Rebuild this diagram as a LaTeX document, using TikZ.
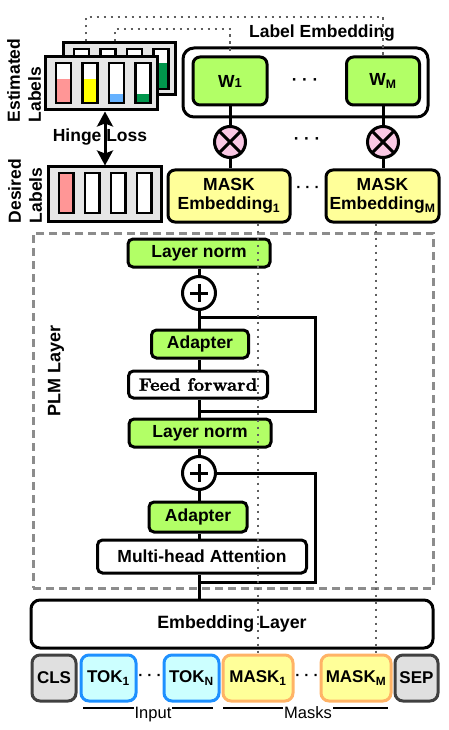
\documentclass[tikz,border=0pt]{standalone}
\usepackage{fontspec}
\setsansfont{Liberation Sans}
\newfontfamily\ffbold{lmroman10-bold}[Extension=.otf, FakeBold=1.5]
\usetikzlibrary{arrows.meta}
\definecolor{lgreen}{RGB}{178,255,102}
\definecolor{lyellow}{RGB}{255,255,153}
\definecolor{lpink}{RGB}{250,200,228}
\definecolor{lcyan}{RGB}{204,255,255}
\definecolor{tokblue}{RGB}{30,144,255}
\definecolor{tokorange}{RGB}{255,179,102}
\definecolor{lgray}{RGB}{224,224,224}
\definecolor{dgray}{RGB}{64,64,64}
\definecolor{boxgray}{RGB}{230,230,230}
\definecolor{dotgray}{RGB}{95,95,95}
\definecolor{dashgray}{RGB}{140,140,140}
\definecolor{barpink}{RGB}{255,150,150}
\definecolor{baryellow}{RGB}{255,255,0}
\definecolor{barblue}{RGB}{102,178,255}
\definecolor{bargreen}{RGB}{0,150,76}
\newcommand{\bfs}[1]{\sffamily\bfseries\fontsize{#1}{21}\selectfont}
\begin{document}
\begin{tikzpicture}[x=1pt,y=-1pt,
  blk/.style={draw, line width=3pt, rounded corners=5pt, inner sep=0pt, align=center, font=\bfs{17.5}},
  grn/.style={blk, fill=lgreen},
  wht/.style={blk, fill=white},
  ylw/.style={blk, fill=lyellow, rounded corners=7pt, font=\sffamily\bfseries\fontsize{17.5}{19}\selectfont},
  tokc/.style={blk, fill=lcyan, draw=tokblue, rounded corners=8pt, font=\bfs{17}, minimum height=46pt},
  tokm/.style={blk, fill=lyellow, draw=tokorange, rounded corners=8pt, font=\bfs{17}, minimum height=46pt},
  tokg/.style={blk, fill=lgray, draw=dgray, rounded corners=8pt, font=\bfs{17}, minimum height=46pt},
  sumc/.style={circle, draw, line width=3pt, fill=white, minimum size=33pt, inner sep=0pt,
    path picture={\draw[line width=3pt] ([xshift=-9pt]path picture bounding box.center) -- ([xshift=9pt]path picture bounding box.center);
                  \draw[line width=3pt] ([yshift=-9pt]path picture bounding box.center) -- ([yshift=9pt]path picture bounding box.center);}},
  mulc/.style={circle, draw, line width=3pt, fill=lpink, minimum size=31pt, inner sep=0pt,
    path picture={\draw[line width=3pt] (path picture bounding box.north west) -- (path picture bounding box.south east);
                  \draw[line width=3pt] (path picture bounding box.north east) -- (path picture bounding box.south west);}},
  conn/.style={line width=3pt},
  dotl/.style={line width=2.8pt, color=dotgray, dash pattern=on 2.8pt off 4.2pt},
  lbox/.style={draw, line width=3pt, fill=boxgray, inner sep=0pt},
  bar/.style={draw, line width=2.8pt},
  txt/.style={font=\bfs{17.5}, inner sep=0pt},
  dots/.style={font=\bfs{15}, inner sep=0pt}
]
\useasboundingbox (0,0) rectangle (449,730);

% PLM container
\node[draw=dashgray, line width=3pt, dash pattern=on 8pt off 5pt, minimum width=400pt, minimum height=355pt, inner sep=0pt] (plm) at (233,410.5) {};
\node[txt, rotate=90, font=\bfs{18}] (plmt) at (56,371) {PLM Layer};

% Estimated labels (back copy)
\node[lbox, minimum width=112pt, minimum height=52pt] (estb) at (119,69) {};
\foreach \x in {74,100.5,127,153.5} { \fill[white] (\x,49) rectangle (\x+15,89); }
\fill[bargreen] (153.5,63) rectangle (168.5,89);
\foreach \x in {74,100.5,127,153.5} { \draw[bar] (\x,49) rectangle (\x+15,89); }
% Estimated labels (front)
\node[lbox, minimum width=112pt, minimum height=53pt] (estf) at (101,83.5) {};
\foreach \x/\l/\c in {56/24/barpink, 82.5/24/baryellow, 109/9/barblue, 135.5/9/bargreen} {
  \fill[white] (\x,63) rectangle (\x+15,103);
  \fill[\c] (\x,103-\l) rectangle (\x+15,103);
  \draw[bar] (\x,63) rectangle (\x+15,103);
}
% Desired labels
\node[lbox, minimum width=113pt, minimum height=54pt] (desl) at (104.5,194) {};
\foreach \x in {59,85,111,137} { \fill[white] (\x,173) rectangle (\x+14.5,213); }
\fill[barpink] (59,173) rectangle (73.5,213);
\foreach \x in {59,85,111,137} { \draw[bar] (\x,173) rectangle (\x+14.5,213); }

\node[txt, rotate=90, align=left, font=\sffamily\bfseries\fontsize{17.5}{21}\selectfont] (estt) at (24,80.5) {Estimated\\Labels};
\node[txt, rotate=90, align=left, font=\sffamily\bfseries\fontsize{17.5}{21}\selectfont] (dest) at (25,191) {Desired\\Labels};

\coordinate (hx) at (105,0);
\draw[conn, {Stealth[length=15pt,width=16pt,inset=3pt]}-{Stealth[length=15pt,width=16pt,inset=3pt]}] (estf.south -| hx) -- (desl.north -| hx);
\node[txt] (hinge) at (100,137) {Hinge Loss};

% Label embedding
\node[draw, line width=3pt, rounded corners=11pt, minimum width=245pt, minimum height=69pt, inner sep=0pt] (lemb) at (305.5,82.5) {};
\node[txt] (lembt) at (322,33) {Label Embedding};
\node[grn, minimum width=74pt, minimum height=48pt, rounded corners=7pt] (w1) at (230,81) {W{\fontsize{13}{13}\selectfont 1}};
\node[grn, minimum width=73pt, minimum height=48pt, rounded corners=7pt] (wm) at (383,81) {W\textsubscript{M}};
\node[dots, font=\bfs{17}] (wdots) at (305,82) {· · ·};
\node[mulc] (o1) at (230,142) {};
\node[mulc] (om) at (383,142) {};
\node[dots, font=\bfs{17}] (odots) at (307,141) {· · ·};
\node[ylw, minimum width=122pt, minimum height=52pt] (me1) at (229,196) {MASK\\Embedding\textsubscript{1}};
\node[ylw, minimum width=113pt, minimum height=52pt] (mem) at (382.5,196) {MASK\\Embedding\textsubscript{M}};
\node[dots] (mdots) at (308,189) {· · ·};
\draw[conn] (w1.south -| o1) -- (o1.north);
\draw[conn] (o1.south) -- (me1.north -| o1);
\draw[conn] (wm.south -| om) -- (om.north);
\draw[conn] (om.south) -- (mem.north -| om);

% PLM stack
\node[grn, minimum width=142pt, minimum height=28pt] (ln1) at (199,253) {Layer norm};
\node[sumc] (p1) at (199,293) {};
\node[grn, minimum width=97pt, minimum height=28pt] (ad1) at (200,344) {Adapter};
\node[wht, minimum width=139pt, minimum height=27pt, font=\ffbold\fontsize{18}{21}\selectfont] (ff) at (198,384.5) {Feed forward};
\node[grn, minimum width=142pt, minimum height=28pt] (ln2) at (200,433) {Layer norm};
\node[sumc] (p2) at (199,473) {};
\node[grn, minimum width=98pt, minimum height=30pt] (ad2) at (198,517) {Adapter};
\node[wht, minimum width=209pt, minimum height=33pt] (mha) at (202,556.5) {Multi-head Attention};
\node[wht, minimum width=402pt, minimum height=48pt, rounded corners=9pt, font=\bfs{17.8}] (emb) at (232,624) {Embedding Layer};

\draw[conn] (emb.north -| p2) -- (mha.south -| p2);
\draw[conn] (mha.north -| p2) -- (ad2.south -| p2);
\draw[conn] (ad2.north -| p2) -- (p2.south);
\draw[conn] (p2.north) -- (ln2.south -| p2);
\draw[conn] (ln2.north -| p1) -- (ff.south -| p1);
\draw[conn] (ff.north -| p1) -- (ad1.south -| p1);
\draw[conn] (ad1.north -| p1) -- (p1.south);
\draw[conn] (p1.north) -- (ln1.south -| p1);
\coordinate (l1a) at (315,317);
\coordinate (l1b) at (315,411);
\draw[conn] (l1a -| p1) -- (l1a) -- (l1b) -- (l1b -| p1);
\coordinate (l2b) at (315,582);
\draw[conn] (p2.east) -| (l2b) -- (l2b -| p2);

% tokens
\node[tokg, minimum width=44pt] (cls) at (54,678) {CLS};
\node[tokc, minimum width=55pt] (t1) at (108.5,678) {TOK\textsubscript{1}};
\node[dots] (tdots) at (150,677) {· · ·};
\node[tokc, minimum width=55pt] (tn) at (191.5,678) {TOK\textsubscript{N}};
\node[tokm, minimum width=70pt] (mk1) at (258,678) {MASK\textsubscript{1}};
\node[dots] (kdots) at (307,677) {· · ·};
\node[tokm, minimum width=70pt] (mkm) at (356,678) {MASK\textsubscript{M}};
\node[tokg, minimum width=43pt] (sep) at (416.5,678) {SEP};

\coordinate (in1) at (83,708); \coordinate (in2) at (213,708);
\coordinate (ms1) at (223,708); \coordinate (ms2) at (388,708);
\draw[line width=2.2pt] (in1) -- (in2);
\draw[line width=2.2pt] (ms1) -- (ms2);
\node[fill=white, inner sep=1pt, anchor=base, font=\sffamily\fontsize{16.5}{18}\selectfont] (inl) at (153,718) {Input};
\node[fill=white, inner sep=1pt, anchor=base, font=\sffamily\fontsize{16.5}{18}\selectfont] (msl) at (308,718) {Masks};

% dotted links
\coordinate (ta) at (86,17);
\coordinate (tb) at (115,29);
\draw[dotl] (estb.north -| ta) -- (ta) -| (wm.north);
\draw[dotl] (estb.north -| tb) -- (tb) -| (w1.north);
\draw[dotl] (me1.south -| mk1.north) -- (mk1.north);
\coordinate (dx) at (376,0);
\draw[dotl] (mem.south -| dx) -- (mkm.north -| dx);
\end{tikzpicture}
\end{document}
